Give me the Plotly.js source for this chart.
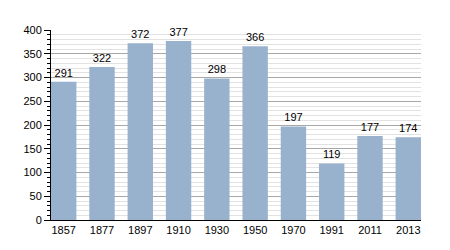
<!DOCTYPE html>
<html>
<head>
<meta charset="utf-8">
<script src="https://cdn.plot.ly/plotly-3.0.1.min.js"></script>
<style>html,body{margin:0;padding:0;background:#fff;}#chart{width:450px;height:250px;}</style>
</head>
<body>
<div id="chart"></div>
<script>
const years = ["1857","1877","1897","1910","1930","1950","1970","1991","2011","2013"];
const population = [291, 322, 372, 377, 298, 366, 197, 119, 177, 174];
const yTicks = [0, 50, 100, 150, 200, 250, 300, 350, 400];

const trace = {
  type: 'bar',
  x: years,
  y: population,
  text: population.map(String),
  textposition: 'outside',
  cliponaxis: false,
  textfont: {family: 'Liberation Sans, Arial, sans-serif', size: 11, color: '#000'},
  marker: {color: '#98b1cc', line: {width: 0}},
  hoverinfo: 'none'
};

const layout = {
  width: 450, height: 250,
  margin: {l: 51, r: 29, t: 30, b: 30, pad: 0},
  paper_bgcolor: '#fff', plot_bgcolor: '#fff',
  bargap: 0.337,
  showlegend: false,
  font: {family: 'Liberation Sans, Arial, sans-serif', size: 11, color: '#000'},
  xaxis: {
    type: 'category',
    range: [-0.332, 9.332],
    showgrid: false,
    showline: true, linecolor: '#000', linewidth: 1,
    ticks: '', ticklen: 0,
    tickfont: {size: 11, color: '#000'},
    fixedrange: true
  },
  yaxis: {
    range: [0, 400],
    tickvals: yTicks,
    ticktext: yTicks.map(String),
    showgrid: true, gridcolor: '#a8a8a8', gridwidth: 1,
    zeroline: false,
    showline: true, linecolor: '#000', linewidth: 1,
    ticks: 'outside', ticklen: 6, tickcolor: '#000', tickwidth: 1,
    tickfont: {size: 11, color: '#000'},
    minor: {dtick: 10, tick0: 0, ticks: 'outside', ticklen: 3, tickcolor: '#000', tickwidth: 1, showgrid: true, gridcolor: '#e2e2e2', gridwidth: 1},
    fixedrange: true
  }
};

Plotly.newPlot('chart', [trace], layout, {staticPlot: true, displayModeBar: false});
</script>
</body>
</html>
